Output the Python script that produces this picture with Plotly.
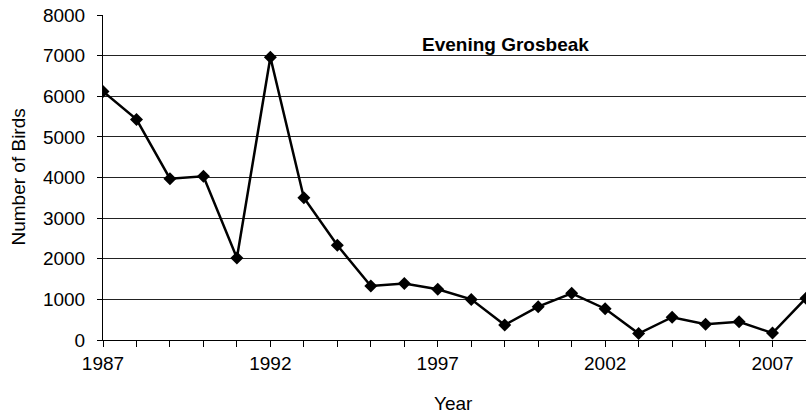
import plotly.graph_objects as go

years = list(range(1987, 2009))
birds = [6120, 5430, 3970, 4030, 2020, 6960, 3500, 2330, 1330, 1390, 1250,
         1000, 370, 820, 1150, 770, 160, 560, 390, 450, 170, 1030]
tick_years = years
tick_labels = [str(y) if (y - 1987) % 5 == 0 else "" for y in years]
y_ticks = [0, 1000, 2000, 3000, 4000, 5000, 6000, 7000, 8000]

FONT = "Liberation Sans, Arial, sans-serif"

fig = go.Figure()
fig.add_trace(go.Scatter(
    x=years, y=birds, mode="lines+markers",
    line=dict(color="black", width=2.5),
    marker=dict(symbol="diamond", size=10, color="black"),
    cliponaxis=True, showlegend=False,
))

fig.update_layout(
    width=806, height=418,
    margin=dict(l=103, r=0, t=15, b=78, autoexpand=False),
    paper_bgcolor="white", plot_bgcolor="white",
    font=dict(family=FONT, size=19, color="black"),
    xaxis=dict(
        range=[1987, 2008], tickvals=tick_years, ticktext=tick_labels,
        ticks="outside", ticklen=6, tickcolor="black", tickwidth=1,
        showline=True, linecolor="black", linewidth=1,
        showgrid=False, zeroline=False, automargin=False,
        tickfont=dict(size=19),
    ),
    yaxis=dict(
        range=[0, 8000], tickvals=y_ticks,
        ticks="outside", ticklen=5, tickcolor="black", tickwidth=1,
        showline=True, linecolor="black", linewidth=1,
        showgrid=True, gridcolor="#222", gridwidth=1,
        zeroline=False, automargin=False, ticklabelstandoff=8,
        tickfont=dict(size=19),
    ),
    annotations=[
        dict(text="<b>Evening Grosbeak</b>", xref="paper", yref="paper",
             x=(505 - 103) / 703, y=(340 - 44) / 325, showarrow=False,
             font=dict(size=19), xanchor="center", yanchor="middle"),
        dict(text="Number of Birds", xref="paper", yref="paper",
             x=(18 - 103) / 703, y=0.5, showarrow=False, textangle=-90,
             font=dict(size=19), xanchor="center", yanchor="middle"),
        dict(text="Year", xref="paper", yref="paper",
             x=(453 - 103) / 703, y=(340 - 403) / 325, showarrow=False,
             font=dict(size=19), xanchor="center", yanchor="middle"),
    ],
)

fig.write_html("out.html", config={"displayModeBar": False},
               post_script="document.body.style.margin='0';")
